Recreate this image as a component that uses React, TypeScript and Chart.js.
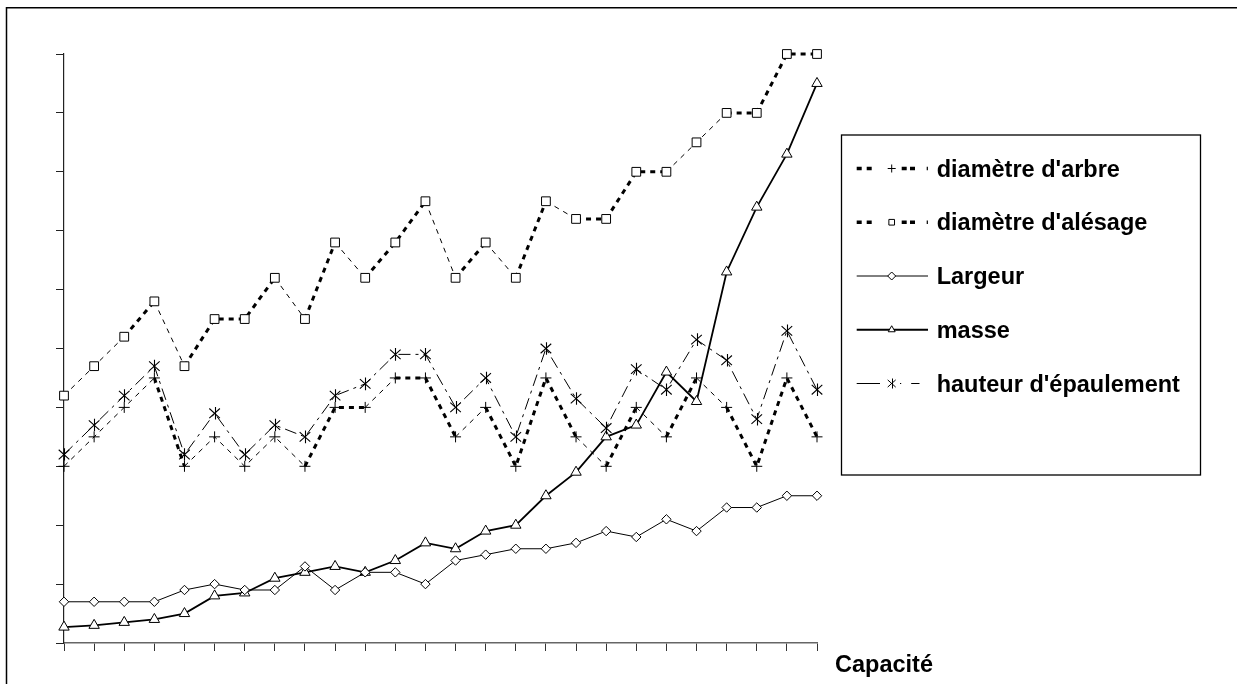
import React, { useEffect, useRef } from 'react';
import { Chart, registerables } from 'chart.js';
import { drawPoint } from 'chart.js/helpers';

Chart.register(...registerables);

// ---- data ----
const capacities = ['1', '2', '3', '4', '5', '6', '7', '8', '9', '10', '11', '12', '13', '14', '15', '16', '17', '18', '19', '20', '21', '22', '23', '24', '25', '26'];
const diametreArbre = [30, 35, 40, 45, 30, 35, 30, 35, 30, 40, 40, 45, 45, 35, 40, 30, 45, 35, 30, 40, 35, 45, 40, 30, 45, 35];
const diametreAlesage = [42, 47, 52, 58, 47, 55, 55, 62, 55, 68, 62, 68, 75, 62, 68, 62, 75, 72, 72, 80, 80, 85, 90, 90, 100, 100];
const largeur = [7, 7, 7, 7, 9, 10, 9, 9, 13, 9, 12, 12, 10, 14, 15, 16, 16, 17, 19, 18, 21, 19, 23, 23, 25, 25];
const masse = [2.7, 3, 3.5, 4, 5, 8, 8.5, 11, 12, 13, 12, 14, 17, 16, 19, 20, 25, 29, 35, 37, 46, 41, 63, 74, 83, 95];
const hauteurEpaulement = [32, 37, 42, 47, 32, 39, 32, 37, 35, 42, 44, 49, 49, 40, 45, 35, 50, 41.5, 36.5, 46.5, 43, 51.5, 48, 38, 53, 43];
const seriesNames = ["diamètre d'arbre", "diamètre d'alésage", 'Largeur', 'masse', "hauteur d'épaulement"];
const axisTitle = 'Capacité';
const yMin = 0;
const yMax = 100;
const yStep = 10;

const FONT = 'bold 23.5px "Liberation Sans", Arial, sans-serif';

function drawAsterisk(ctx: CanvasRenderingContext2D, x: number, y: number, hw: number, hh: number) {
  const cx = Math.round(x) + 0.5;
  ctx.beginPath();
  ctx.moveTo(cx, y - hh);
  ctx.lineTo(cx, y + hh);
  ctx.moveTo(x - hw, y - hw * 0.9);
  ctx.lineTo(x + hw, y + hw * 0.9);
  ctx.moveTo(x + hw, y - hw * 0.9);
  ctx.lineTo(x - hw, y + hw * 0.9);
  ctx.stroke();
}

export default function App() {
  const ref = useRef<HTMLCanvasElement | null>(null);

  useEffect(() => {
    if (!ref.current) return;

    const thickSquares = (c: any) => {
      const d = c.p1.parsed.y - c.p0.parsed.y;
      return d === 0 || d >= 6 ? 3 : 1;
    };
    const thickPlus = (c: any) => {
      const d = c.p1.parsed.y - c.p0.parsed.y;
      return d === 0 || Math.abs(d) >= 9 ? 3 : 1;
    };

    const thickLegendDash = [5, 5, 5, 30, 5, 3.3, 5, 11.7, 1.2, 50];
    const legendStyles = [
      { width: 3.5, dash: thickLegendDash, style: 'cross' as any },
      { width: 3.5, dash: thickLegendDash, style: 'rect' as any },
      { width: 1, dash: [], style: 'rectRot' as any },
      { width: 1.8, dash: [], style: 'triangle' as any },
      { width: 1, dash: [23.3, 20, 1.2, 10, 8.3, 50], style: 'asterisk' as any },
    ];

    const overlay = {
      id: 'overlay',
      afterDatasetsDraw(chart: any) {
        const ctx: CanvasRenderingContext2D = chart.ctx;
        const meta = chart.getDatasetMeta(4);
        ctx.save();
        ctx.strokeStyle = '#000';
        ctx.lineWidth = 1.1;
        ctx.setLineDash([]);
        meta.data.forEach((el: any) => drawAsterisk(ctx, el.x, el.y, 5.3, 6.3));
        ctx.restore();
      },
      afterDraw(chart: any) {
        const ctx: CanvasRenderingContext2D = chart.ctx;
        ctx.save();
        // outer frame
        ctx.strokeStyle = '#000';
        ctx.lineWidth = 1.5;
        ctx.setLineDash([]);
        ctx.beginPath();
        ctx.moveTo(6.5, 684);
        ctx.lineTo(6.5, 7.75);
        ctx.lineTo(1237, 7.75);
        ctx.stroke();
        // legend box
        ctx.lineWidth = 1.3;
        ctx.strokeRect(841.5, 135, 359, 340);
        ctx.font = FONT;
        ctx.fillStyle = '#000';
        ctx.textBaseline = 'alphabetic';
        ctx.textAlign = 'left';
        seriesNames.forEach((name, i) => {
          const s = legendStyles[i];
          const base = 176.5 + i * 53.75;
          const ly = base - 8;
          ctx.save();
          ctx.strokeStyle = '#000';
          ctx.lineWidth = s.width;
          ctx.setLineDash(s.dash);
          ctx.beginPath();
          ctx.moveTo(856.7, ly);
          ctx.lineTo(928, ly);
          ctx.stroke();
          ctx.restore();
          ctx.save();
          ctx.setLineDash([]);
          ctx.fillStyle = '#fff';
          ctx.strokeStyle = '#000';
          ctx.lineWidth = 1;
          if (s.style === 'asterisk') {
            drawAsterisk(ctx, 891.7, ly, 4, 5);
          } else {
            drawPoint(ctx, { pointStyle: s.style, radius: 4, borderWidth: 1, rotation: 0 } as any, 891.7, ly);
          }
          ctx.restore();
          ctx.fillStyle = '#000';
          ctx.fillText(name, 936.7, base);
        });
        ctx.fillText(axisTitle, 835, 671.5);
        ctx.restore();
      },
    };

    const common = {
      borderColor: '#000',
      pointBorderColor: '#000',
      pointBackgroundColor: '#fff',
      pointBorderWidth: 1,
      fill: false,
      tension: 0,
      clip: false as any,
    };

    const chart = new Chart(ref.current, {
      type: 'line',
      data: {
        labels: capacities,
        datasets: [
          {
            ...common,
            label: seriesNames[0],
            data: diametreArbre,
            borderWidth: 3,
            borderDash: [5, 5],
            pointStyle: 'cross',
            pointRadius: 5.5,
            segment: { borderWidth: thickPlus },
          },
          {
            ...common,
            label: seriesNames[1],
            data: diametreAlesage,
            borderWidth: 3,
            borderDash: [5, 5],
            pointStyle: 'rect',
            pointRadius: 6.2,
            segment: { borderWidth: thickSquares },
          },
          {
            ...common,
            label: seriesNames[2],
            data: largeur,
            borderWidth: 1,
            pointStyle: 'rectRot',
            pointRadius: 4.7,
          },
          {
            ...common,
            label: seriesNames[3],
            data: masse,
            borderWidth: 1.8,
            pointStyle: 'triangle',
            pointRadius: 6,
          },
          {
            ...common,
            label: seriesNames[4],
            data: hauteurEpaulement,
            borderWidth: 1,
            borderDash: [12, 5, 3, 5],
            pointStyle: 'circle',
            pointRadius: 0,
          },
        ],
      },
      options: {
        responsive: false,
        animation: false,
        events: [],
        devicePixelRatio: 1,
        layout: { padding: { left: 56, top: 54, right: 420, bottom: 33 } },
        plugins: { legend: { display: false }, tooltip: { enabled: false }, title: { display: false } },
        scales: {
          x: {
            type: 'category',
            offset: false,
            ticks: { display: false },
            grid: { display: true, drawOnChartArea: false, drawTicks: true, tickLength: 8, color: '#333', lineWidth: 1 },
            border: { display: true, color: '#666', width: 1.5 },
            afterFit: (s: any) => {
              s.height = 8;
            },
          },
          y: {
            min: yMin,
            max: yMax,
            ticks: { display: false, stepSize: yStep },
            grid: { display: true, drawOnChartArea: false, drawTicks: true, tickLength: 8, color: '#222', lineWidth: 1 },
            border: { display: true, color: '#222', width: 1.2 },
            afterFit: (s: any) => {
              s.width = 8;
            },
          },
        },
      },
      plugins: [overlay],
    } as any);

    return () => chart.destroy();
  }, []);

  return (
    <div style={{ position: 'absolute', left: 0, top: 0, width: 1237, height: 684, background: '#fff' }}>
      <canvas ref={ref} width={1237} height={684} style={{ display: 'block', width: 1237, height: 684 }} />
    </div>
  );
}
